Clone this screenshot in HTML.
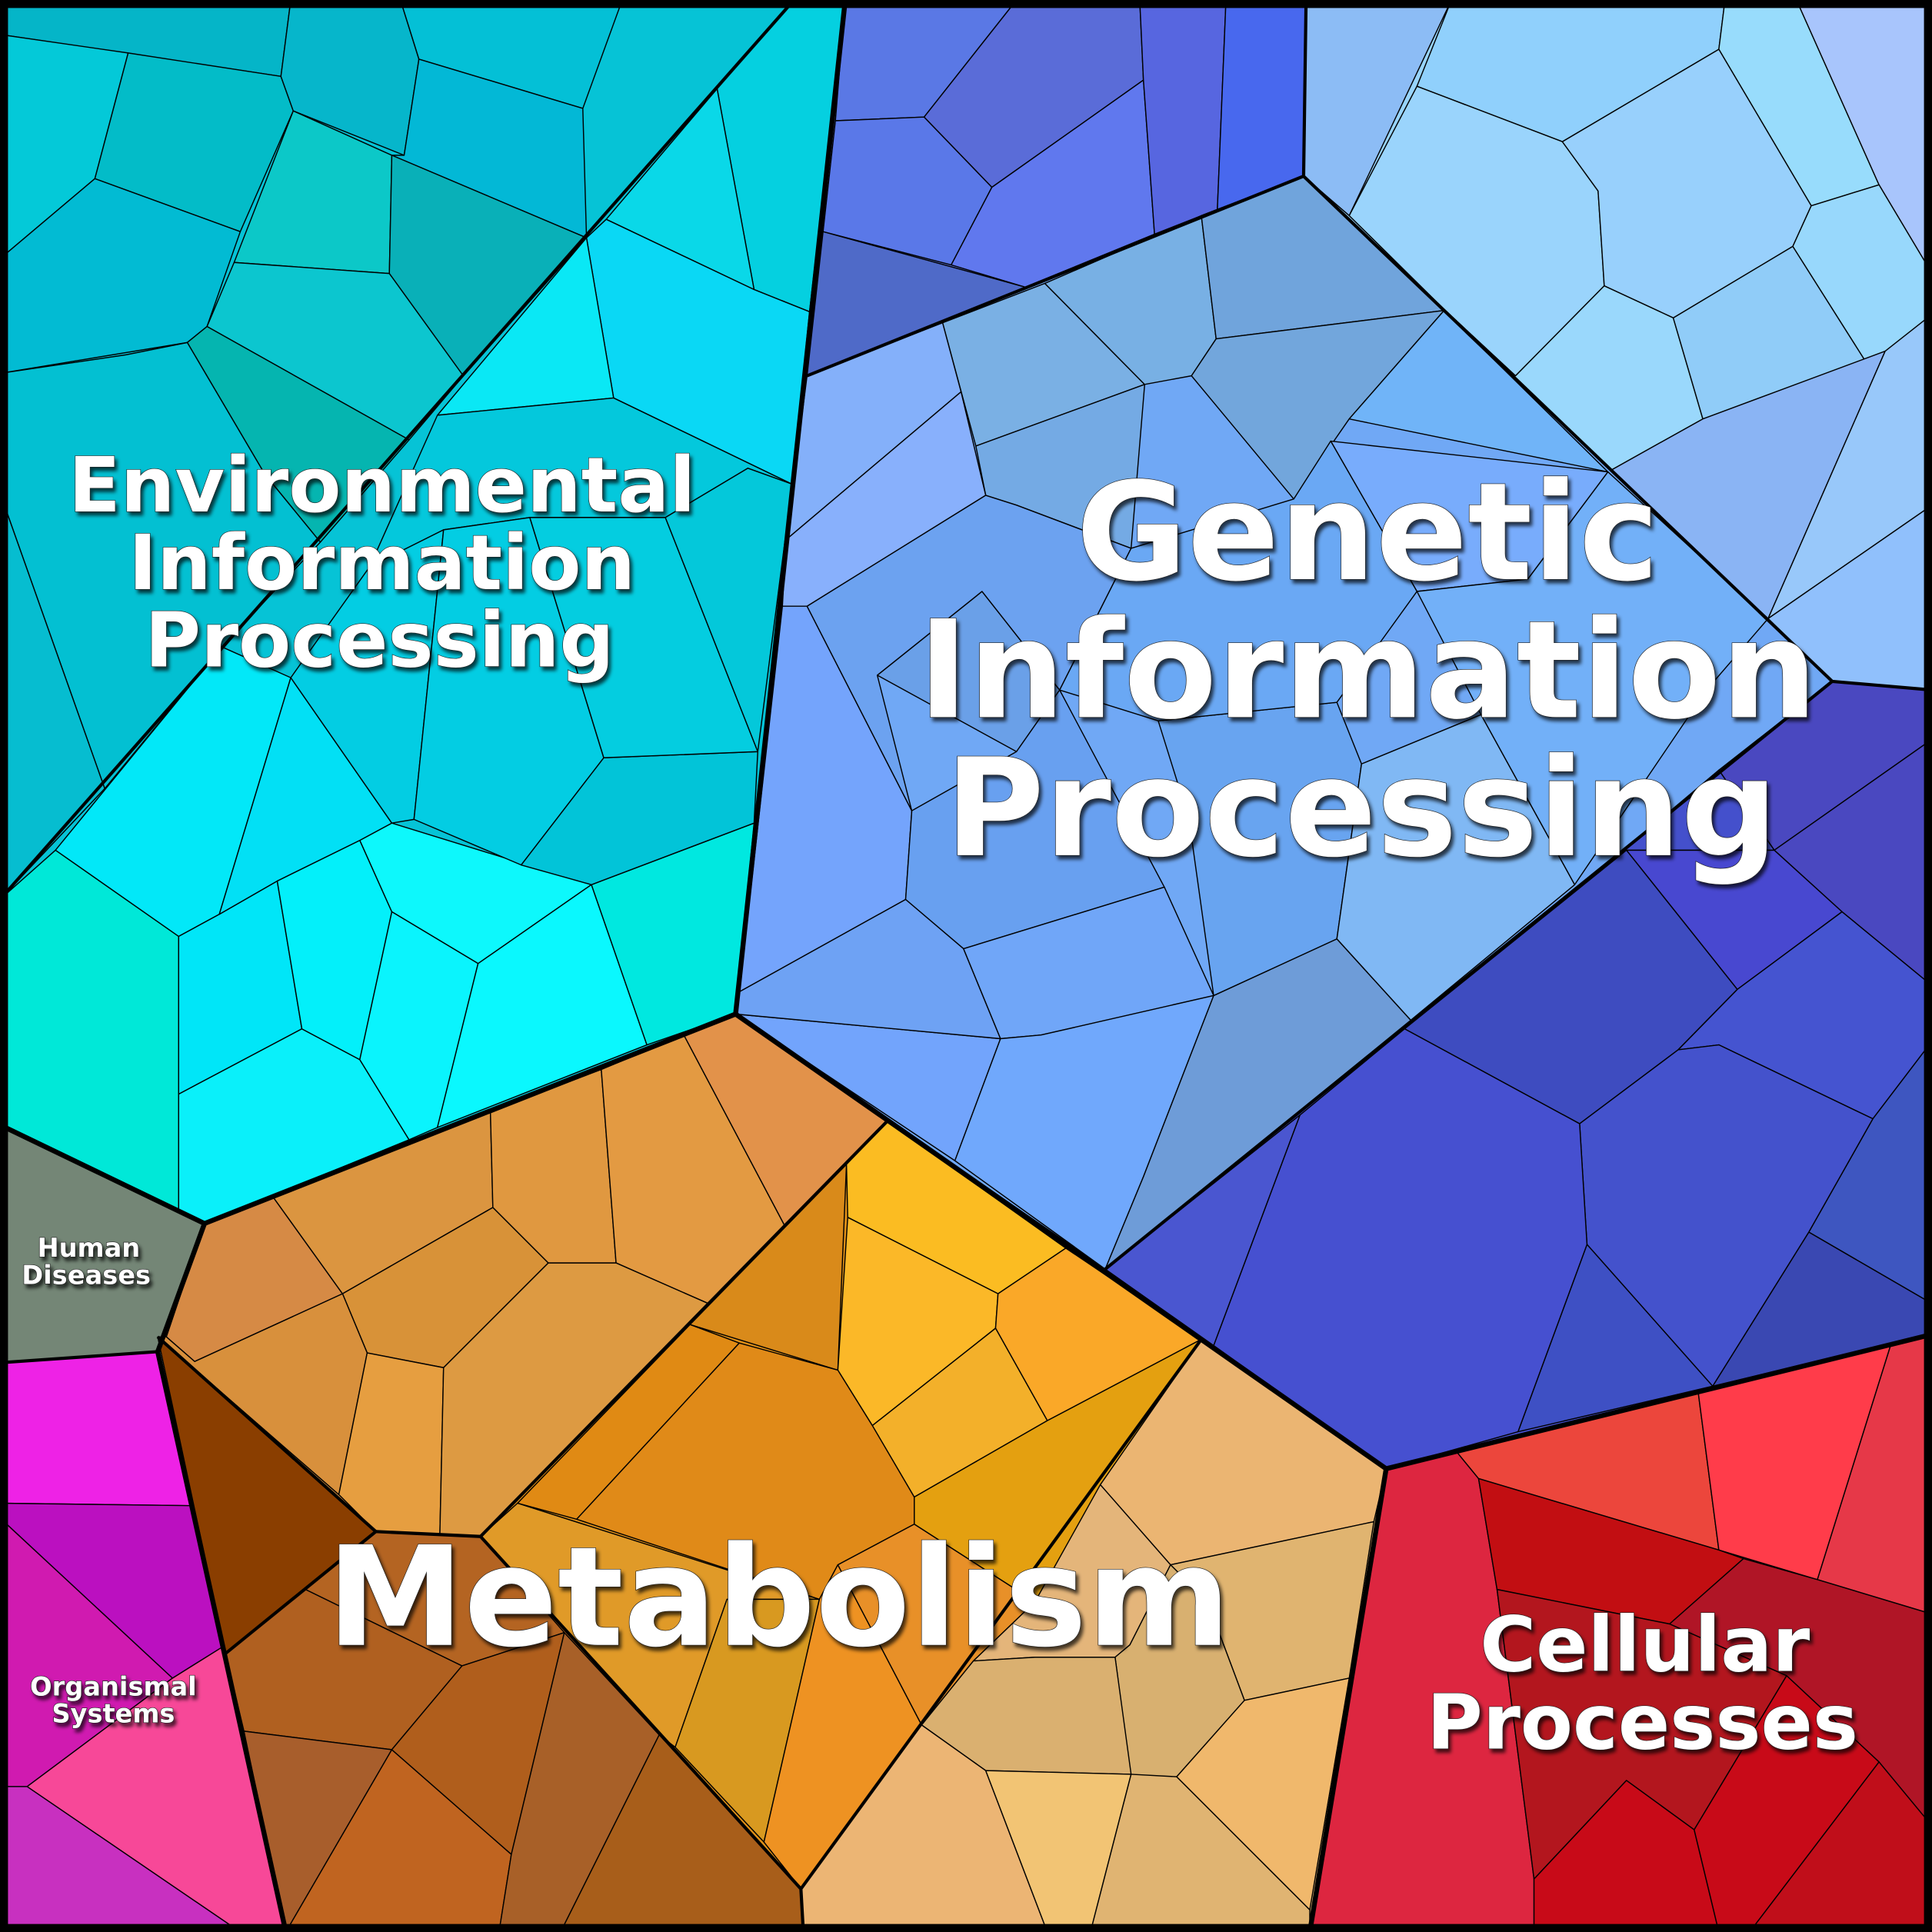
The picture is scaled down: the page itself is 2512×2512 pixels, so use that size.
<!DOCTYPE html>
<html><head><meta charset="utf-8"><style>
html,body{margin:0;padding:0;background:#fff}
svg{display:block}
text{font-family:"DejaVu Sans","Liberation Sans",sans-serif;font-weight:bold;fill:#fff;text-anchor:middle;stroke:#222;stroke-width:0.8;paint-order:stroke}
.c polygon{stroke:#000;stroke-width:0.9;stroke-linejoin:round}
.b polygon{stroke:none}
.g{fill:none;stroke:#000;stroke-width:2.6;stroke-linejoin:round}
.m{fill:none;stroke:#000;stroke-width:4;stroke-linejoin:round}
</style></head><body>
<svg width="2512" height="2512" viewBox="0 0 1568 1568" xmlns="http://www.w3.org/2000/svg">
<defs><filter id="sh" x="-10%" y="-10%" width="120%" height="130%"><feDropShadow dx="2" dy="3" stdDeviation="1.5" flood-color="#000" flood-opacity="0.7"/></filter></defs>
<g class="b">
<polygon fill="#d89040" points="166,993 597,823 720,910 390,1247 305,1243 128,1085"/>
<polygon fill="#b06020" points="128,1085 305,1243 390,1247 650,1533 652,1568 232,1568"/>
<polygon fill="#e09018" points="390,1247 720,910 975,1087 650,1533"/>
<polygon fill="#dab070" points="975,1087 1125,1192 1063,1568 652,1568 650,1533"/>
<polygon fill="#dd2640" points="1125,1192 1568,1083 1568,1568 1063,1568"/>
</g>
<g class="c">
<!-- Environmental -->
<polygon fill="#06c3d6" points="0,0 686,0 597,823 166,993 0,913"/>
<polygon fill="#05b5c8" points="0,0 236,0 228,62 0,28"/>
<polygon fill="#04c9d8" points="0,28 104,43 77,145 0,210"/>
<polygon fill="#03bcc8" points="104,43 228,62 238,90 195,188 77,145"/>
<polygon fill="#02bbd3" points="0,210 77,145 195,188 168,265 152,278 0,303"/>
<polygon fill="#06b6cb" points="236,0 325,0 340,48 328,126 238,90 228,62"/>
<polygon fill="#04c0d6" points="325,0 505,0 473,88 340,48"/>
<polygon fill="#03b8d6" points="340,48 473,88 476,193 318,126 328,126"/>
<polygon fill="#0cc8c8" points="238,90 318,126 316,222 190,213"/>
<polygon fill="#09b0b8" points="318,126 476,193 376,305 316,222"/>
<polygon fill="#0cc6cf" points="190,213 316,222 376,305 332,357 168,265"/>
<polygon fill="#05b5b0" points="152,278 168,265 332,357 260,440 215,385"/>
<polygon fill="#03c0d2" points="0,303 102,288 152,278 215,385 260,440 180,525 85,640 0,400"/>
<polygon fill="#06bdd0" points="0,400 85,640 0,730"/>
<polygon fill="#05d0e0" points="640,5 686,0 657,253 612,235 582,72"/>
<polygon fill="#0ad8e8" points="582,72 612,235 492,178"/>
<polygon fill="#0ad8f5" points="476,193 492,178 612,235 657,253 643,393 498,323"/>
<polygon fill="#0ae8f5" points="476,193 498,323 355,337"/>
<polygon fill="#04c8dc" points="355,337 498,323 643,393 607,380 540,420 430,420 360,430 300,460"/>
<polygon fill="#02e8f8" points="45,690 145,760 178,742 236,550 180,525"/>
<polygon fill="#00e8d8" points="0,730 45,690 145,760 145,985 0,913"/>
<polygon fill="#00e6f8" points="145,760 178,742 225,715 245,835 145,888"/>
<polygon fill="#0af0fa" points="145,888 245,835 292,860 332,925 166,993 145,985"/>
<polygon fill="#03f0fa" points="225,715 292,682 318,740 292,860 245,835"/>
<polygon fill="#0df8fc" points="292,682 318,668 480,718 388,782 318,740"/>
<polygon fill="#0af4fd" points="318,740 388,782 355,915 332,925 292,860"/>
<polygon fill="#0af8fe" points="388,782 480,718 525,848 355,915"/>
<polygon fill="#00e8e0" points="480,718 612,668 597,823 525,848"/>
<polygon fill="#02e0f5" points="236,550 318,668 292,682 225,715 178,742"/>
<polygon fill="#03cde3" points="318,668 336,665 360,430 300,460 236,550"/>
<polygon fill="#03cde3" points="336,665 423,702 490,615 430,420 360,430"/>
<polygon fill="#02c4d8" points="423,702 480,718 612,668 615,610 490,615"/>
<polygon fill="#04cde0" points="490,615 615,610 540,420 430,420"/>
<polygon fill="#04c8da" points="540,420 607,380 643,393 615,610"/>
<!-- Genetic top-left -->
<polygon fill="#5a74e0" points="686,0 1060,0 1058,143 655,305"/>
<polygon fill="#5a78e5" points="686,0 825,0 750,95 678,98"/>
<polygon fill="#5a6cd8" points="825,0 925,0 928,65 805,152 750,95"/>
<polygon fill="#5a78e8" points="678,98 750,95 805,152 772,215 668,188"/>
<polygon fill="#6078ee" points="805,152 928,65 937,190 832,233 772,215"/>
<polygon fill="#5766e0" points="925,0 995,0 988,170 937,190 928,65"/>
<polygon fill="#4868ee" points="995,0 1060,0 1058,143 988,170"/>
<polygon fill="#4f6ac8" points="668,188 832,233 655,305"/>
<!-- Genetic top-right -->
<polygon fill="#98d4fc" points="1060,0 1568,0 1568,560 1487,553 1058,143"/>
<polygon fill="#8cbcf5" points="1060,0 1178,0 1095,175 1058,143"/>
<polygon fill="#90d0fc" points="1178,0 1400,0 1395,40 1268,115 1150,70"/>
<polygon fill="#98dcfc" points="1400,0 1458,0 1525,150 1470,167 1395,40"/>
<polygon fill="#a8c5fc" points="1458,0 1568,0 1568,222 1525,150"/>
<polygon fill="#9ad4fc" points="1150,70 1268,115 1297,155 1302,232 1230,305 1173,252 1095,175"/>
<polygon fill="#98d0fc" points="1268,115 1395,40 1470,167 1455,200 1358,258 1302,232 1297,155"/>
<polygon fill="#98d8fc" points="1470,167 1525,150 1568,222 1568,285 1517,298 1455,200"/>
<polygon fill="#9ad8fc" points="1230,305 1302,232 1358,258 1382,340 1305,383 1172,252 1173,252"/>
<polygon fill="#90ccf8" points="1358,258 1455,200 1517,298 1382,340"/>
<polygon fill="#8ab4f4" points="1305,383 1382,340 1530,285 1435,502"/>
<polygon fill="#98c8fa" points="1435,502 1530,285 1568,255 1568,410"/>
<polygon fill="#90c0fc" points="1435,502 1568,410 1568,560 1487,553"/>
<!-- Genetic middle -->
<polygon fill="#70a8f5" points="655,305 1058,143 1487,553 897,1030 597,823"/>
<polygon fill="#7ab0e4" points="765,262 848,230 929,312 792,362"/>
<polygon fill="#78b0e4" points="848,230 975,175 987,275 967,305 929,312"/>
<polygon fill="#70a4dc" points="975,175 1058,143 1172,252 987,275"/>
<polygon fill="#72a6dc" points="967,305 987,275 1172,252 1095,340 1050,405"/>
<polygon fill="#74aae4" points="792,362 929,312 918,445 825,410 800,402"/>
<polygon fill="#84b0fa" points="655,305 765,262 780,318 638,438"/>
<polygon fill="#88b0fc" points="638,438 780,318 800,402 655,492 635,492"/>
<polygon fill="#70b4f8" points="1095,340 1172,252 1305,383"/>
<polygon fill="#6aa0e8" points="712,548 797,480 860,560 825,610"/>
<polygon fill="#74a4fc" points="635,492 655,492 740,658 735,730 600,805 628,555"/>
<polygon fill="#6ca2f0" points="800,402 825,410 918,445 860,560 797,480 712,548 740,658 655,492"/>
<polygon fill="#68a0f0" points="740,658 825,610 860,560 945,720 782,770 735,730"/>
<polygon fill="#72a4fc" points="597,823 812,843 775,942"/>
<polygon fill="#6ea2f4" points="600,805 735,730 782,770 812,843 597,823"/>
<polygon fill="#70a6f8" points="782,770 945,720 985,808 845,840 812,843"/>
<polygon fill="#70a8fc" points="845,840 985,808 928,955 897,1030 775,942 812,843"/>
<polygon fill="#6e9cd8" points="985,808 1085,762 1145,828 897,1030 928,955"/>
<polygon fill="#68a4f0" points="940,585 1085,570 1105,620 1085,762 985,808 965,665"/>
<polygon fill="#80b8f4" points="1105,620 1202,580 1278,718 1145,828 1085,762"/>
<polygon fill="#78acfc" points="1080,358 1305,383 1240,470 1150,480"/>
<polygon fill="#72b0f8" points="1240,470 1305,383 1435,502 1385,560 1278,718 1202,580 1150,480"/>
<polygon fill="#6aa8f4" points="918,445 1050,405 1080,358 1150,480 1085,570 940,585 860,560"/>
<!-- Indigo -->
<polygon fill="#4650cc" points="1487,553 1568,560 1568,1083 1125,1192 897,1030"/>
<polygon fill="#4a48c0" points="1487,553 1568,560 1568,600 1440,690 1395,625"/>
<polygon fill="#4a48c0" points="1440,690 1568,600 1568,800 1495,740"/>
<polygon fill="#4848d0" points="1320,690 1440,690 1495,740 1410,803"/>
<polygon fill="#4450cc" points="1395,625 1440,690 1320,690 1268,732"/>
<polygon fill="#3e4cc0" points="1268,732 1320,690 1410,803 1362,852 1282,912 1140,835"/>
<polygon fill="#4554d0" points="1362,852 1410,803 1495,740 1568,800 1568,845 1520,908 1395,848"/>
<polygon fill="#3e56c0" points="1520,908 1568,845 1568,1058 1468,1000"/>
<polygon fill="#3a48b2" points="1390,1125 1468,1000 1568,1058 1568,1083"/>
<polygon fill="#4452cc" points="1282,912 1362,852 1395,848 1520,908 1468,1000 1390,1125 1288,1010"/>
<polygon fill="#3e50c4" points="1232,1162 1288,1010 1390,1125"/>
<polygon fill="#4650d0" points="1055,905 1140,835 1282,912 1288,1010 1232,1162 1125,1192 985,1092"/>
<polygon fill="#4a56d0" points="897,1030 1055,905 985,1092"/>
<!-- Human diseases -->
<polygon fill="#748676" points="0,913 166,993 128,1097 0,1106"/>
<!-- Organismal -->
<polygon fill="#ee22e6" points="0,1106 128,1097 155,1222 0,1220"/>
<polygon fill="#bb10c0" points="0,1220 155,1222 180,1337 140,1362 0,1232"/>
<polygon fill="#d01ab0" points="0,1232 140,1362 22,1450 0,1450"/>
<polygon fill="#f74898" points="22,1450 140,1362 180,1337 232,1568 195,1568"/>
<polygon fill="#c830c0" points="0,1450 22,1450 195,1568 0,1568"/>
<!-- Metabolism orange -->
<polygon fill="#d68a45" points="166,993 222,972 278,1050 158,1105 135,1085"/>
<polygon fill="#db9540" points="222,972 398,902 400,980 278,1050"/>
<polygon fill="#e09840" points="398,902 488,868 500,1025 445,1025 400,980"/>
<polygon fill="#e39a42" points="488,868 555,840 637,995 575,1058 500,1025"/>
<polygon fill="#e2924a" points="555,840 597,823 720,910 637,995"/>
<polygon fill="#d89238" points="278,1050 400,980 445,1025 360,1110 298,1098"/>
<polygon fill="#d8903c" points="158,1105 278,1050 298,1098 275,1213 128,1085 135,1085"/>
<polygon fill="#e69e40" points="298,1098 360,1110 357,1245 305,1243 275,1213"/>
<polygon fill="#dd9a42" points="360,1110 445,1025 500,1025 575,1058 390,1247 357,1245"/>
<polygon fill="#de9540" points="575,1058 637,995 720,910 560,1075"/>
<!-- dark brown -->
<polygon fill="#8a3e00" points="128,1085 305,1243 183,1342"/>
<polygon fill="#b06020" points="183,1342 248,1290 375,1352 318,1420 198,1405"/>
<polygon fill="#b46422" points="248,1290 305,1243 390,1247 458,1325 375,1352"/>
<polygon fill="#a85e2c" points="198,1405 318,1420 232,1568"/>
<polygon fill="#c06420" points="318,1420 415,1505 405,1568 232,1568"/>
<polygon fill="#b05e1c" points="375,1352 458,1325 415,1505 318,1420"/>
<polygon fill="#a86028" points="458,1325 535,1408 455,1568 405,1568 415,1505"/>
<polygon fill="#a85e1a" points="535,1408 650,1533 652,1568 455,1568"/>
<!-- yellow-orange -->
<polygon fill="#d98a1a" points="560,1075 687,945 680,1112"/>
<polygon fill="#fbbc22" points="687,945 720,910 865,1013 810,1050 688,988"/>
<polygon fill="#fbb828" points="688,988 810,1050 808,1078 708,1157 680,1112"/>
<polygon fill="#faa828" points="810,1050 865,1013 975,1087 850,1153 808,1078"/>
<polygon fill="#f3b02a" points="708,1157 808,1078 850,1153 742,1215"/>
<polygon fill="#e4a010" points="742,1215 850,1153 975,1087 840,1300 742,1237"/>
<polygon fill="#e08a14" points="420,1220 560,1075 600,1090 468,1233"/>
<polygon fill="#e08a18" points="468,1233 600,1090 680,1112 708,1157 742,1215 742,1237 680,1270 665,1298"/>
<polygon fill="#e09a28" points="390,1247 420,1220 665,1298 590,1298 548,1418 535,1408"/>
<polygon fill="#d89920" points="548,1418 590,1298 665,1298 620,1495"/>
<polygon fill="#ee9222" points="665,1298 680,1270 748,1400 650,1533 620,1495"/>
<polygon fill="#e89028" points="680,1270 742,1237 840,1300 790,1348 748,1400"/>
<!-- tan -->
<polygon fill="#ebb572" points="975,1087 1125,1192 1115,1235 950,1270 893,1205"/>
<polygon fill="#e4b57a" points="893,1205 950,1270 917,1335 905,1345 840,1345 790,1348 840,1300"/>
<polygon fill="#e0b470" points="950,1270 1115,1235 1095,1362 1010,1380 980,1300"/>
<polygon fill="#d8b070" points="950,1270 980,1300 1010,1380 955,1442 918,1445 905,1345 917,1335"/>
<polygon fill="#dab070" points="790,1348 840,1345 905,1345 918,1440 800,1437 748,1400"/>
<polygon fill="#ecb574" points="748,1400 800,1437 850,1568 652,1568 650,1533"/>
<polygon fill="#f2c474" points="800,1437 918,1440 885,1568 850,1568"/>
<polygon fill="#e0b472" points="918,1440 955,1442 1063,1550 1063,1568 885,1568"/>
<polygon fill="#f0b86c" points="955,1442 1010,1380 1095,1362 1063,1550"/>
<!-- Cellular -->
<polygon fill="#dd2640" points="1125,1192 1182,1178 1200,1200 1215,1290 1245,1525 1245,1568 1063,1568"/>
<polygon fill="#ec463c" points="1182,1178 1378,1128 1395,1258 1200,1200"/>
<polygon fill="#ff3c4a" points="1378,1128 1535,1090 1475,1282 1395,1258"/>
<polygon fill="#e63848" points="1535,1090 1568,1083 1568,1310 1475,1282"/>
<polygon fill="#c20e12" points="1200,1200 1395,1258 1415,1265 1355,1318 1215,1290"/>
<polygon fill="#b01526" points="1415,1265 1475,1282 1568,1310 1568,1482 1525,1430 1450,1360 1355,1318"/>
<polygon fill="#b3161e" points="1215,1290 1355,1318 1450,1360 1375,1485 1320,1445 1245,1525"/>
<polygon fill="#c80a18" points="1245,1525 1320,1445 1375,1485 1395,1568 1245,1568"/>
<polygon fill="#c80a18" points="1375,1485 1450,1360 1525,1430 1420,1568 1395,1568"/>
<polygon fill="#c00e1a" points="1525,1430 1568,1482 1568,1568 1420,1568"/>
</g>
<!-- subgroup boundaries -->
<polyline class="g" points="640,5 0,730"/>
<polyline class="g" points="655,305 1058,143 1060,0"/>
<polyline class="g" points="1058,143 1487,553 1568,560"/>
<polyline class="g" points="1487,553 897,1030"/>
<polyline class="g" points="128,1085 305,1243 183,1342"/>
<polyline class="g" points="305,1243 390,1247 720,910"/>
<polyline class="g" points="390,1247 650,1533 652,1568"/>
<polyline class="g" points="650,1533 975,1087"/>
<polyline class="g" points="0,1106 128,1097"/>
<!-- major boundaries -->
<polyline class="m" points="686,0 597,823 166,993 0,913"/>
<polyline class="m" points="597,823 1125,1192 1568,1083"/>
<polyline class="m" points="1125,1192 1063,1568"/>
<polyline class="m" points="166,993 128,1097 232,1568"/>
<rect x="3" y="3" width="1562" height="1562" fill="none" stroke="#000" stroke-width="7"/>
<!-- labels -->
<g filter="url(#sh)">
<text x="310" y="415" font-size="62">Environmental</text>
<text x="310" y="478" font-size="62">Information</text>
<text x="308" y="541" font-size="62">Processing</text>
<text x="1110" y="470" font-size="110">Genetic</text>
<text x="1110" y="582" font-size="110">Information</text>
<text x="1105" y="694" font-size="110">Processing</text>
<text x="632" y="1335" font-size="112">Metabolism</text>
<text x="1335" y="1356" font-size="62">Cellular</text>
<text x="1333" y="1419" font-size="62">Processes</text>
<text x="72" y="1020" font-size="21">Human</text>
<text x="70" y="1042" font-size="21">Diseases</text>
<text x="92" y="1376" font-size="21">Organismal</text>
<text x="92" y="1398" font-size="21">Systems</text>
</g>
</svg>
</body></html>
